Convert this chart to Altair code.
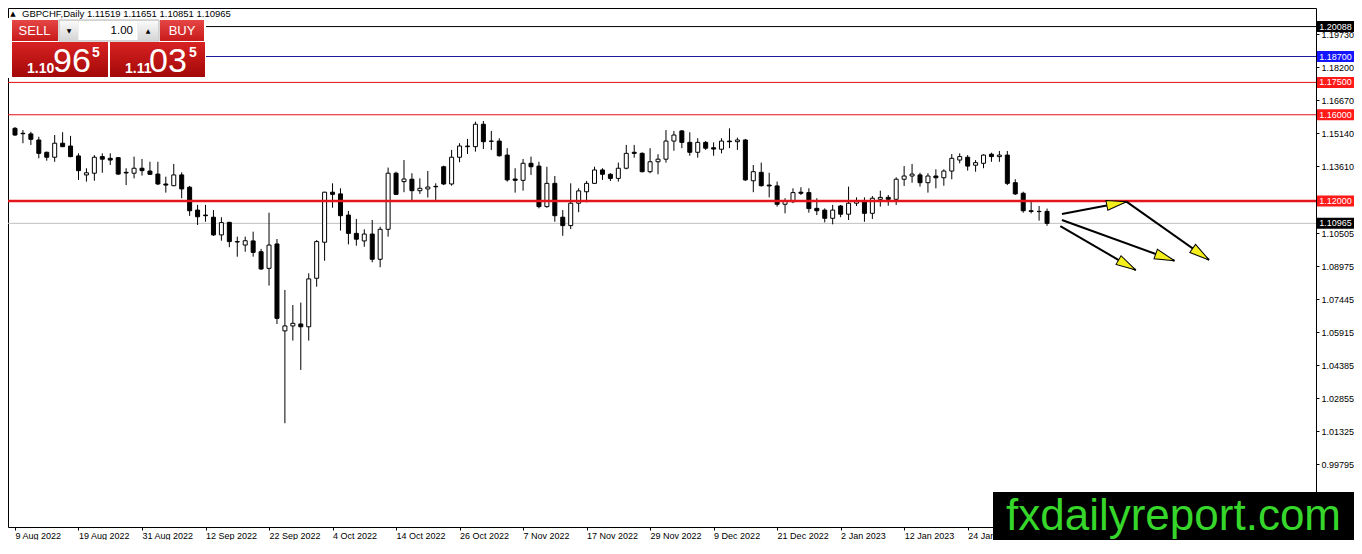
import math
import altair as alt
import pandas as pd

# ---------------- data ----------------
OPEN = [1.1537,1.1514,1.1511,1.1483,1.1426,1.1403,1.1468,1.1455,1.1409,1.1321,
        1.1329,1.1406,1.1398,1.1401,1.1333,1.1329,1.1352,1.1339,1.1325,1.1279,
        1.1271,1.1321,1.1264,1.1158,1.1135,1.1125,1.1043,1.1101,1.1012,1.0996,
        1.1015,1.0965,1.0888,1.1001,1.0598,1.0621,1.0630,1.0617,1.0842,1.1009,
        1.1241,1.1233,1.1135,1.1050,1.1015,1.1047,1.0930,1.1069,1.1329,1.1290,
        1.1301,1.1248,1.1256,1.1266,1.1359,1.1279,1.1403,1.1452,1.1452,1.1556,
        1.1478,1.1478,1.1413,1.1302,1.1296,1.1375,1.1362,1.1174,1.1282,1.1125,
        1.1086,1.1190,1.1243,1.1282,1.1344,1.1324,1.1305,1.1352,1.1426,1.1421,
        1.1336,1.1382,1.1394,1.1478,1.1525,1.1472,1.1426,1.1472,1.1447,1.1440,
        1.1478,1.1475,1.1483,1.1294,1.1333,1.1274,1.1270,1.1185,1.1197,1.1241,
        1.1239,1.1166,1.1158,1.1120,1.1177,1.1139,1.1190,1.1202,1.1143,1.1208,
        1.1217,1.1208,1.1301,1.1316,1.1321,1.1285,1.1316,1.1308,1.1339,1.1390,
        1.1403,1.1366,1.1375,1.1417,1.1406,1.1413,1.1285,1.1236,1.1155,1.1152,
        1.11519]
HIGH = [1.1543,1.1529,1.1521,1.1498,1.1429,1.1506,1.1519,1.1502,1.1421,1.1352,
        1.1413,1.1421,1.1421,1.1403,1.1352,1.1406,1.1395,1.1382,1.1382,1.1313,
        1.1372,1.1333,1.1270,1.1182,1.1182,1.1158,1.1125,1.1104,1.1035,1.1035,
        1.1058,1.0978,1.1146,1.1024,1.0788,1.0718,1.0729,1.0865,1.1019,1.1243,
        1.1282,1.1259,1.1154,1.1117,1.1069,1.1112,1.1081,1.1355,1.1336,1.1390,
        1.1329,1.1305,1.1339,1.1282,1.1364,1.1437,1.1468,1.1488,1.1568,1.1571,
        1.1525,1.1491,1.1445,1.1352,1.1395,1.1406,1.1382,1.1359,1.1316,1.1158,
        1.1282,1.1259,1.1293,1.1359,1.1352,1.1329,1.1378,1.1460,1.1460,1.1426,
        1.1445,1.1417,1.1529,1.1525,1.1529,1.1519,1.1491,1.1478,1.1472,1.1491,
        1.1537,1.1494,1.1488,1.1367,1.1378,1.1331,1.1290,1.1213,1.1259,1.1264,
        1.1259,1.1213,1.1166,1.1182,1.1182,1.1267,1.1217,1.1217,1.1223,1.1248,
        1.1228,1.1310,1.1362,1.1372,1.1331,1.1329,1.1347,1.1347,1.1418,1.1421,
        1.1413,1.1390,1.1417,1.1424,1.1432,1.1432,1.1301,1.1243,1.1197,1.1177,
        1.11651]
LOW = [1.1502,1.1468,1.1460,1.1398,1.1387,1.1382,1.1450,1.1403,1.1298,1.1290,
       1.1294,1.1331,1.1367,1.1321,1.1274,1.1305,1.1318,1.1321,1.1274,1.1239,
       1.1269,1.1213,1.1131,1.1089,1.1104,1.1038,1.1016,1.0986,1.0942,1.0965,
       1.0942,1.0880,1.0808,1.0630,1.0170,1.0553,1.0417,1.0553,1.0803,1.0923,
       1.1169,1.1063,1.0999,1.0993,1.0988,1.0916,1.0893,1.1035,1.1228,1.1241,
       1.1202,1.1233,1.1216,1.1205,1.1274,1.1271,1.1380,1.1418,1.1429,1.1441,
       1.1437,1.1406,1.1290,1.1239,1.1248,1.1321,1.1166,1.1169,1.1104,1.1039,
       1.1070,1.1148,1.1194,1.1279,1.1298,1.1293,1.1290,1.1347,1.1401,1.1333,
       1.1329,1.1324,1.1378,1.1433,1.1445,1.1410,1.1401,1.1437,1.1410,1.1421,
       1.1445,1.1437,1.1293,1.1241,1.1267,1.1217,1.1174,1.1143,1.1190,1.1228,
       1.1146,1.1135,1.1101,1.1092,1.1125,1.1112,1.1177,1.1104,1.1117,1.1174,
       1.1178,1.1182,1.1270,1.1285,1.1267,1.1239,1.1259,1.1271,1.1301,1.1375,
       1.1341,1.1336,1.1352,1.1382,1.1382,1.1274,1.1228,1.1146,1.1143,1.1109,
       1.10851]
CLOSE = [1.1506,1.1512,1.1486,1.1421,1.1403,1.1468,1.1452,1.1406,1.1341,1.1331,
         1.1403,1.1394,1.1390,1.1325,1.1330,1.1352,1.1341,1.1324,1.1279,1.1274,
         1.1321,1.1256,1.1155,1.1127,1.1132,1.1043,1.1100,1.1012,1.1010,1.1016,
         1.0962,1.0885,1.0996,1.0656,1.0621,1.0633,1.0617,1.0839,1.1012,1.1241,
         1.1231,1.1132,1.1050,1.1023,1.1047,1.0930,1.1069,1.1329,1.1231,1.1302,
         1.1248,1.1259,1.1265,1.1268,1.1279,1.1403,1.1455,1.1455,1.1556,1.1475,
         1.1477,1.1410,1.1298,1.1296,1.1375,1.1359,1.1174,1.1282,1.1132,1.1086,
         1.1190,1.1247,1.1282,1.1344,1.1324,1.1305,1.1352,1.1421,1.1421,1.1336,
         1.1382,1.1394,1.1478,1.1506,1.1472,1.1426,1.1472,1.1445,1.1441,1.1478,
         1.1475,1.1483,1.1298,1.1336,1.1271,1.1270,1.1185,1.1200,1.1239,1.1236,
         1.1165,1.1155,1.1120,1.1158,1.1139,1.1190,1.1202,1.1143,1.1213,1.1217,
         1.1208,1.1301,1.1316,1.1325,1.1285,1.1316,1.1308,1.1339,1.1398,1.1406,
         1.1362,1.1378,1.1413,1.1406,1.1413,1.1282,1.1233,1.1155,1.1152,1.1151,
         1.10965]

DATE_LABELS = ["9 Aug 2022", "19 Aug 2022", "31 Aug 2022", "12 Sep 2022",
               "22 Sep 2022", "4 Oct 2022", "14 Oct 2022", "26 Oct 2022",
               "7 Nov 2022", "17 Nov 2022", "29 Nov 2022", "9 Dec 2022",
               "21 Dec 2022", "2 Jan 2023", "12 Jan 2023", "24 Jan 2023"]
BARS_PER_LABEL = 8
PRICE_TICKS = [1.19730, 1.18200, 1.16670, 1.15140, 1.13610, 1.10505, 1.08975,
               1.07445, 1.05915, 1.04385, 1.02855, 1.01325, 0.99795]
LEVELS = [1.20088, 1.18700, 1.17500, 1.16000, 1.12000, 1.10965]
LEVEL_LABELS = ["1.20088", "1.18700", "1.17500", "1.16000", "1.12000", "1.10965"]

ARROW_FROM_X = [131.875, 140.0, 131.875, 131.675]
ARROW_FROM_Y = [1.1140, 1.1197, 1.1112, 1.1084]
ARROW_TO_X = [140.0, 150.4, 146.05, 141.18]
ARROW_TO_Y = [1.1197, 1.0927, 1.0923, 1.0880]

HEADER = "GBPCHF,Daily 1.11519 1.11651 1.10851 1.10965"
SELL_PRICE = ["1.10", "96", "5"]
BUY_PRICE = ["1.11", "03", "5"]
LOT = "1.00"
LOGO = "fxdailyreport.com"

# ---------------- styles / layout ----------------
W, H = 1308, 519
X_DOMAIN = [-0.25, 163.25]
Y_DOMAIN = [0.96888, 1.20949]
FONT = "Liberation Sans, Arial, sans-serif"
NARROW = "Liberation Sans Narrow, Liberation Sans, Arial, sans-serif"
LINE_COLORS = ["#000000", "#1c1c9c", "#e01010", "#e01010", "#e3161b", "#c0c0c0"]
LINE_WIDTHS = [1, 1, 1, 1, 2.5, 1]
BOX_COLORS = ["#000000", "#1414ff", "#ff1a1a", "#ff1a1a", "#ff1a1a", "#000000"]

candles = pd.DataFrame({"i": list(range(len(OPEN))), "o": OPEN, "h": HIGH,
                        "l": LOW, "c": CLOSE})
levels = pd.DataFrame({"p": LEVELS, "lbl": LEVEL_LABELS})

xs = alt.Scale(domain=X_DOMAIN, nice=False, zero=False)
ys = alt.Scale(domain=Y_DOMAIN, nice=False, zero=False)

label_expr = ("[" + ",".join("'%s'" % s for s in DATE_LABELS) + "]"
              "[round(datum.value / %d)]" % BARS_PER_LABEL)
x_axis = alt.Axis(orient="bottom", values=[k * BARS_PER_LABEL for k in range(len(DATE_LABELS))],
                  labelExpr=label_expr, title=None, grid=False, domain=False,
                  tickSize=3, tickColor="black", labelAlign="left", labelBaseline="top",
                  labelFlush=False, labelOverlap=False, labelPadding=1,
                  labelFont=FONT, labelFontSize=9, labelColor="black")
y_axis = alt.Axis(orient="right", values=PRICE_TICKS, format=".5f", title=None,
                  grid=False, domain=False, tickSize=3, tickColor="black",
                  labelFlush=False, labelOverlap=False, labelPadding=2,
                  labelFont=FONT, labelFontSize=9, labelColor="black",
                  labelAlign="left", labelBaseline="middle")


def X(field):
    return alt.X(field, scale=xs, axis=x_axis, title=None)


def Y(field):
    return alt.Y(field, scale=ys, axis=y_axis, title=None)


layers = []

wicks = alt.Chart(candles).mark_rule(color="black", strokeWidth=1).encode(
    x=X("i:Q"), y=Y("l:Q"), y2="h:Q")
bodies = alt.Chart(candles).mark_bar(size=4, stroke="black", strokeWidth=1).encode(
    x=X("i:Q"), y=Y("o:Q"), y2="c:Q",
    fill=alt.condition("datum.c >= datum.o", alt.value("white"), alt.value("black")))

# bid line behind the candles
layers.append(alt.Chart(levels.iloc[[5]]).mark_rule(color=LINE_COLORS[5], strokeWidth=LINE_WIDTHS[5])
              .encode(y=Y("p:Q")))
layers += [wicks, bodies]

for k in range(5):
    layers.append(alt.Chart(levels.iloc[[k]]).mark_rule(color=LINE_COLORS[k], strokeWidth=LINE_WIDTHS[k])
                  .encode(y=Y("p:Q")))

# arrows
px = W / (X_DOMAIN[1] - X_DOMAIN[0])
py = H / (Y_DOMAIN[1] - Y_DOMAIN[0])
rows = []
for x1, y1, x2, y2 in zip(ARROW_FROM_X, ARROW_FROM_Y, ARROW_TO_X, ARROW_TO_Y):
    a = math.atan2(-(y2 - y1) * py, (x2 - x1) * px)
    rows.append(dict(x1=x1, y1=y1, x2=x2, y2=y2,
                     hx=x2 - 10 * math.cos(a) / px, hy=y2 + 10 * math.sin(a) / py,
                     ang=math.degrees(a) % 360))
arrows = pd.DataFrame(rows)
layers.append(alt.Chart(arrows).mark_rule(color="black", strokeWidth=2).encode(
    x=X("x1:Q"), y=Y("y1:Q"), x2="x2:Q", y2="y2:Q"))
layers.append(alt.Chart(arrows).mark_point(shape="M 1 0 L -1 -0.5 L -1 0.5 Z", size=400,
                                           filled=True, fill="#f4ef1c", stroke="black",
                                           strokeWidth=1, opacity=1).encode(
    x=X("hx:Q"), y=Y("hy:Q"), angle=alt.Angle("ang:Q", scale=None)))

# price boxes on the right scale
for k in range(6):
    d = levels.iloc[[k]]
    layers.append(alt.Chart(d).mark_rule(color=BOX_COLORS[k], strokeWidth=11).encode(
        x=alt.value(1309), x2=alt.value(1346), y=Y("p:Q")))
    layers.append(alt.Chart(d).mark_text(color="white", font=FONT, fontSize=9, align="center",
                                         baseline="middle").encode(
        x=alt.value(1327.5), y=Y("p:Q"), text="lbl:N"))

one = pd.DataFrame({"k": [0]})


def rect(x1, x2, y1, y2, fill, stroke=None):
    kw = {"fill": fill}
    if stroke:
        kw.update(stroke=stroke, strokeWidth=1)
    return alt.Chart(one).mark_rect(**kw).encode(
        x=alt.value(x1), x2=alt.value(x2), y=alt.value(y1), y2=alt.value(y2))


def grad(top, bottom):
    return alt.Gradient(gradient="linear",
                        stops=[alt.GradientStop(color=top, offset=0),
                               alt.GradientStop(color=bottom, offset=1)],
                        x1=0, x2=0, y1=0, y2=1)


def text(x, y, s, size, color="white", font=FONT, align="left", baseline="alphabetic",
         weight="normal"):
    return alt.Chart(one).mark_text(text=s, font=font, fontSize=size, color=color, align=align,
                                    baseline=baseline, fontWeight=weight).encode(
        x=alt.value(x), y=alt.value(y))


# trading panel
layers += [
    rect(0, 198, 10, 70, "white"),
    rect(4, 50, 12, 33, grad("#e64646", "#c81a1a")),
    rect(152, 196, 12, 33, grad("#e64646", "#c81a1a")),
    rect(51, 151, 12, 33, "#f0f0f0", stroke="#b4b4b4"),
    rect(52, 70, 13, 32, grad("#fafafa", "#d6d6d6")),
    rect(71, 129, 13, 32, "white"),
    rect(130, 150, 13, 32, grad("#fafafa", "#d6d6d6")),
    rect(4, 100, 34, 69, grad("#d82222", "#a30808")),
    rect(102, 197, 34, 69, grad("#d82222", "#a30808")),
    text(26.5, 23, "SELL", 13, font=NARROW, align="center", baseline="middle"),
    text(174, 23, "BUY", 13, font=NARROW, align="center", baseline="middle"),
    text(125, 22.5, LOT, 11.5, color="black", align="right", baseline="middle"),
    text(61, 22.5, "\u25BC", 6, color="black", font="DejaVu Sans", align="center", baseline="middle"),
    text(140, 22.5, "\u25B2", 6, color="black", font="DejaVu Sans", align="center", baseline="middle"),
    text(19, 64.5, SELL_PRICE[0], 14, font=NARROW, weight="bold"),
    text(45, 64, SELL_PRICE[1], 34, font=NARROW),
    text(84, 49, SELL_PRICE[2], 14, font=NARROW, weight="bold"),
    text(117, 64.5, BUY_PRICE[0], 14, font=NARROW, weight="bold"),
    text(141, 64, BUY_PRICE[1], 34, font=NARROW),
    text(181, 49, BUY_PRICE[2], 14, font=NARROW, weight="bold"),
    text(5, 6, "\u25B2", 7, color="black", font="DejaVu Sans", align="center", baseline="middle"),
    text(14, 6, HEADER, 9.5, color="black", baseline="middle"),
]

# watermark
layers += [
    rect(985, 1346, 484, 532, "black"),
    text(1165.5, 522, LOGO, 44, color="#36d62b", align="center"),
]

chart = alt.layer(*layers).properties(
    width=W, height=H,
    padding={"left": 0, "top": 0, "right": 38, "bottom": 13},
    autosize=alt.AutoSizeParams(type="none"),
    background="white",
).configure_view(stroke="black", strokeWidth=1)

chart.save("out.html", embed_options={"renderer": "svg", "actions": False})
